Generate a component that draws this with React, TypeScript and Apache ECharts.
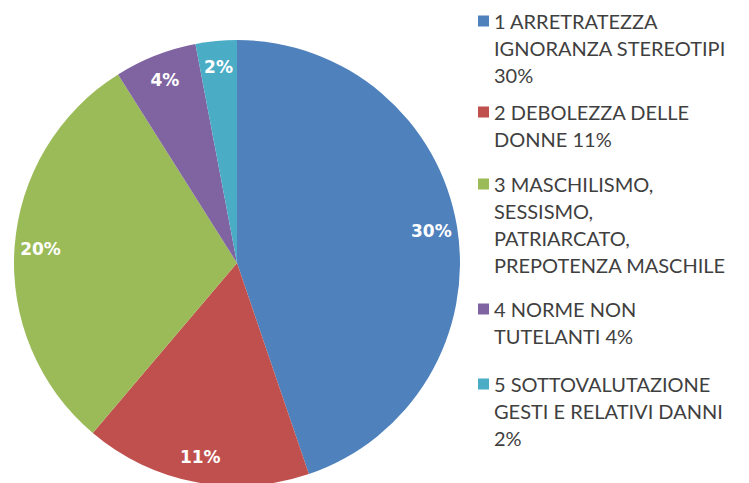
import React, { useEffect, useRef } from "react";
import * as echarts from "echarts";

const categories = [
  "1 ARRETRATEZZA\nIGNORANZA STEREOTIPI\n30%",
  "2 DEBOLEZZA DELLE\nDONNE 11%",
  "3 MASCHILISMO,\nSESSISMO,\nPATRIARCATO,\nPREPOTENZA MASCHILE",
  "4 NORME NON\nTUTELANTI 4%",
  "5 SOTTOVALUTAZIONE\nGESTI E RELATIVI DANNI\n2%",
];
const values = [30, 11, 20, 4, 2];
const colors = ["#4F81BD", "#C0504D", "#9BBB59", "#8064A2", "#4BACC6"];

const legendFirstLineY = [21, 112, 184, 309, 384];
const LH = 27;
const SQ = 11;
const LEGEND_FONT = "Lato, 'Liberation Sans', sans-serif";

export default function App() {
  const ref = useRef<HTMLDivElement>(null);
  useEffect(() => {
    if (!ref.current) return;
    const chart = echarts.init(ref.current, undefined, { renderer: "svg" });
    const data = categories.map((name, i) => ({
      name,
      value: values[i],
      itemStyle: { color: colors[i] },
    }));
    const legends = categories.map((name, i) => {
      const n = name.split("\n").length;
      const H = n * LH;
      const y0 = LH / 2 - SQ / 2;
      const y1 = LH / 2 + SQ / 2;
      const icon = `path://M0,0L${SQ},0M0,${y0}L${SQ},${y0}L${SQ},${y1}L0,${y1}ZM0,${H}L${SQ},${H}`;
      return {
        data: [{ name, icon }],
        orient: "vertical",
        left: 478,
        top: legendFirstLineY[i] - LH / 2,
        padding: 0,
        itemWidth: SQ,
        itemHeight: H,
        selectedMode: false,
        itemStyle: { borderWidth: 0 },
        textStyle: {
          fontFamily: LEGEND_FONT,
          fontSize: 20,
          color: "#3f3f3f",
          lineHeight: LH,
        },
      };
    });
    chart.setOption({
      animation: false,
      legend: legends,
      series: [
        {
          type: "pie",
          center: [237, 263],
          radius: [0, 223],
          startAngle: 90,
          clockwise: true,
          label: { show: false },
          labelLine: { show: false },
          itemStyle: { borderWidth: 0 },
          emphasis: { disabled: true },
          data,
        },
        {
          type: "pie",
          center: [237, 263],
          radius: [165, 223],
          startAngle: 90,
          clockwise: true,
          silent: true,
          itemStyle: { color: "rgba(0,0,0,0)", borderWidth: 0 },
          label: {
            show: true,
            position: "inside",
            formatter: "{c}%",
            color: "#ffffff",
            fontFamily: "'DejaVu Sans', sans-serif",
            fontSize: 17,
            fontWeight: "bold",
          },
          labelLine: { show: false },
          emphasis: { disabled: true },
          data: categories.map((name, i) => ({ name, value: values[i] })),
        },
      ],
    });
    return () => chart.dispose();
  }, []);
  return (
    <div
      ref={ref}
      style={{ position: "fixed", left: 0, top: 0, width: 749, height: 483, background: "#ffffff" }}
    />
  );
}
